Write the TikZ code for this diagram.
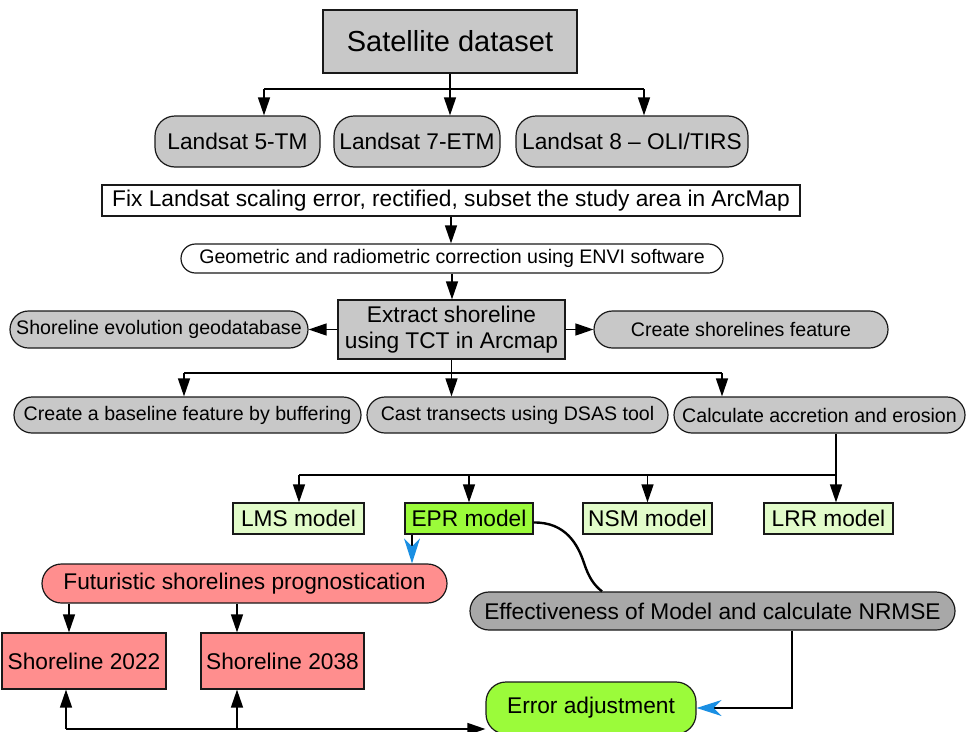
\documentclass[tikz,border=0pt]{standalone}
\usepackage{fontspec}
\setmainfont{Liberation Sans}
\usetikzlibrary{arrows.meta}
\definecolor{gfill}{HTML}{C8C8C8}
\definecolor{dgfill}{HTML}{A8A8A8}
\definecolor{lgreen}{HTML}{E2FCCA}
\definecolor{bgreen}{HTML}{9BFB3A}
\definecolor{salmon}{HTML}{FF8E8E}
\definecolor{ablue}{HTML}{1A8FE3}
\begin{document}
\begin{tikzpicture}[x=1pt,y=-1pt,
  bx/.style={draw=black!90, line width=1.2pt, inner sep=0pt, align=center},
  ln/.style={line width=1.4pt},
  ar/.style={-{Triangle[length=18pt,width=12pt]}, line width=1.4pt},
  bl/.style={-{Stealth[length=25pt,width=16pt,inset=8pt,color=ablue]}, line width=1.1pt},
  fXL/.style={font=\fontsize{29}{33}\selectfont},
  fL/.style={font=\fontsize{22.7}{25.5}\selectfont},
  fS/.style={font=\fontsize{19.6}{22}\selectfont}]
\fill[white] (0,0) rectangle (971,731);
\useasboundingbox (0,0) rectangle (971,731);
% nodes
\node[bx, fill=gfill, fXL, minimum width=254pt, minimum height=63pt] (sat) at (450,41.5) {Satellite dataset};
\node[bx, fill=gfill, fL, rounded corners=20pt, minimum width=165pt, minimum height=51pt] (l5) at (237.5,141.5) {Landsat 5-TM};
\node[bx, fill=gfill, fL, rounded corners=20pt, minimum width=166pt, minimum height=51pt] (l7) at (417,141.5) {Landsat 7-ETM};
\node[bx, fill=gfill, fL, rounded corners=20pt, minimum width=232pt, minimum height=51pt] (l8) at (632,141.5) {Landsat 8 – OLI/TIRS};
\node[bx, fill=white, fL, minimum width=698pt, minimum height=31pt] (fix) at (451,200.5) {Fix Landsat scaling error, rectified, subset the study area in ArcMap};
\node[bx, fill=white, fS, rounded corners=14.5pt, minimum width=542pt, minimum height=29pt] (geo) at (452,258.5) {Geometric and radiometric correction using ENVI software};
\node[bx, fill=gfill, fL, minimum width=227pt, minimum height=59pt] (ext) at (451.5,329.5) {Extract shoreline\\using TCT in Arcmap};
\node[bx, fill=gfill, fS, rounded corners=18.5pt, minimum width=298pt, minimum height=37pt] (evo) at (159,329.5) {Shoreline evolution geodatabase};
\node[bx, fill=gfill, fS, rounded corners=18.5pt, minimum width=294pt, minimum height=37pt] (cre) at (741,329.5) {Create shorelines feature};
\node[bx, fill=gfill, fS, rounded corners=18pt, minimum width=347pt, minimum height=36pt] (base) at (187.5,415) {Create a baseline feature by buffering};
\node[bx, fill=gfill, fS, rounded corners=18pt, minimum width=301pt, minimum height=36pt] (cast) at (517.5,415) {Cast transects using DSAS tool};
\node[bx, fill=gfill, fS, rounded corners=18pt, minimum width=291pt, minimum height=36pt] (calc) at (819.5,415) {Calculate accretion and erosion};
\node[bx, fill=lgreen, fL, minimum width=131pt, minimum height=31pt] (lms) at (298.5,518.5) {LMS model};
\node[bx, fill=bgreen, fL, minimum width=128pt, minimum height=31pt] (epr) at (469,518.5) {EPR model};
\node[bx, fill=lgreen, fL, minimum width=129pt, minimum height=31pt] (nsm) at (647.5,518.5) {NSM model};
\node[bx, fill=lgreen, fL, minimum width=129pt, minimum height=31pt] (lrr) at (828.5,518.5) {LRR model};
\node[bx, fill=salmon, fL, rounded corners=19.5pt, minimum width=405pt, minimum height=39pt] (fut) at (244.5,583.5) {Futuristic shorelines prognostication};
\node[bx, fill=dgfill, fL, rounded corners=19pt, minimum width=485pt, minimum height=38pt] (eff) at (712.5,611) {Effectiveness of Model and calculate NRMSE};
\node[bx, fill=salmon, fL, minimum width=164pt, minimum height=56pt] (s22) at (84,661) {Shoreline 2022};
\node[bx, fill=salmon, fL, minimum width=163pt, minimum height=56pt] (s38) at (282.5,661) {Shoreline 2038};
\node[bx, fill=bgreen, fL, rounded corners=20pt, minimum width=210pt, minimum height=52pt] (err) at (591,708) {Error adjustment};
% junction coordinates
\coordinate (j5) at (264,89);
\coordinate (j8) at (644,89);
\coordinate (k1) at (184,373);
\coordinate (k3) at (722,373);
\coordinate (m1) at (299,475);
\coordinate (m4) at (836,475);
\coordinate (e1) at (412,0);
\coordinate (f1) at (69,0);
\coordinate (f2) at (237,0);
\coordinate (g1) at (792,0);
\coordinate (b1) at (66,729);
\coordinate (b2) at (237,729);
\coordinate (c1) at (602,0);
% connectors
\draw[ln] (sat.south) -- (sat.south |- j5);
\draw[ln] (j5) -- (j8);
\draw[ar] (j5) -- (j5 |- l5.north);
\draw[ar] (sat.south |- j5) -- (sat.south |- l7.north);
\draw[ar] (j8) -- (j8 |- l8.north);
\draw[ar] (fix.south) -- (fix.south |- geo.north);
\draw[ar] (geo.south) -- (geo.south |- ext.north);
\draw[ar] (ext.west) -- (evo.east);
\draw[ar] (ext.east) -- (cre.west);
\draw[ln] (ext.south) -- (ext.south |- k1);
\draw[ln] (k1) -- (k3);
\draw[ar] (k1) -- (k1 |- base.north);
\draw[ar] (ext.south |- k1) -- (ext.south |- cast.north);
\draw[ar] (k3) -- (k3 |- calc.north);
\draw[ln] (calc.south -| m4) -- (m4);
\draw[ln] (m1) -- (m4);
\draw[ar] (m1) -- (m1 |- lms.north);
\draw[ar] (m1 -| epr.north) -- (epr.north);
\draw[ar] (m1 -| nsm.north) -- (nsm.north);
\draw[ar] (m4) -- (m4 |- lrr.north);
\draw[bl] (epr.south -| e1) -- (fut.north -| e1);
\draw[line width=2.4pt] ([yshift=-4pt]epr.east) .. controls (566,522) and (578,545) .. (584,563) .. controls (589,578) and (594,585) .. (eff.north -| c1);
\draw[ar] (fut.south -| f1) -- (s22.north -| f1);
\draw[ar] (fut.south -| f2) -- (s38.north -| f2);
\draw[bl] (eff.south -| g1) |- (err.east);
\draw[ar] (b1) -- (b1 -| err.west);
\draw[ar] (b1) -- (b1 |- s22.south);
\draw[ar] (b2) -- (b2 |- s38.south);
\end{tikzpicture}
\end{document}
